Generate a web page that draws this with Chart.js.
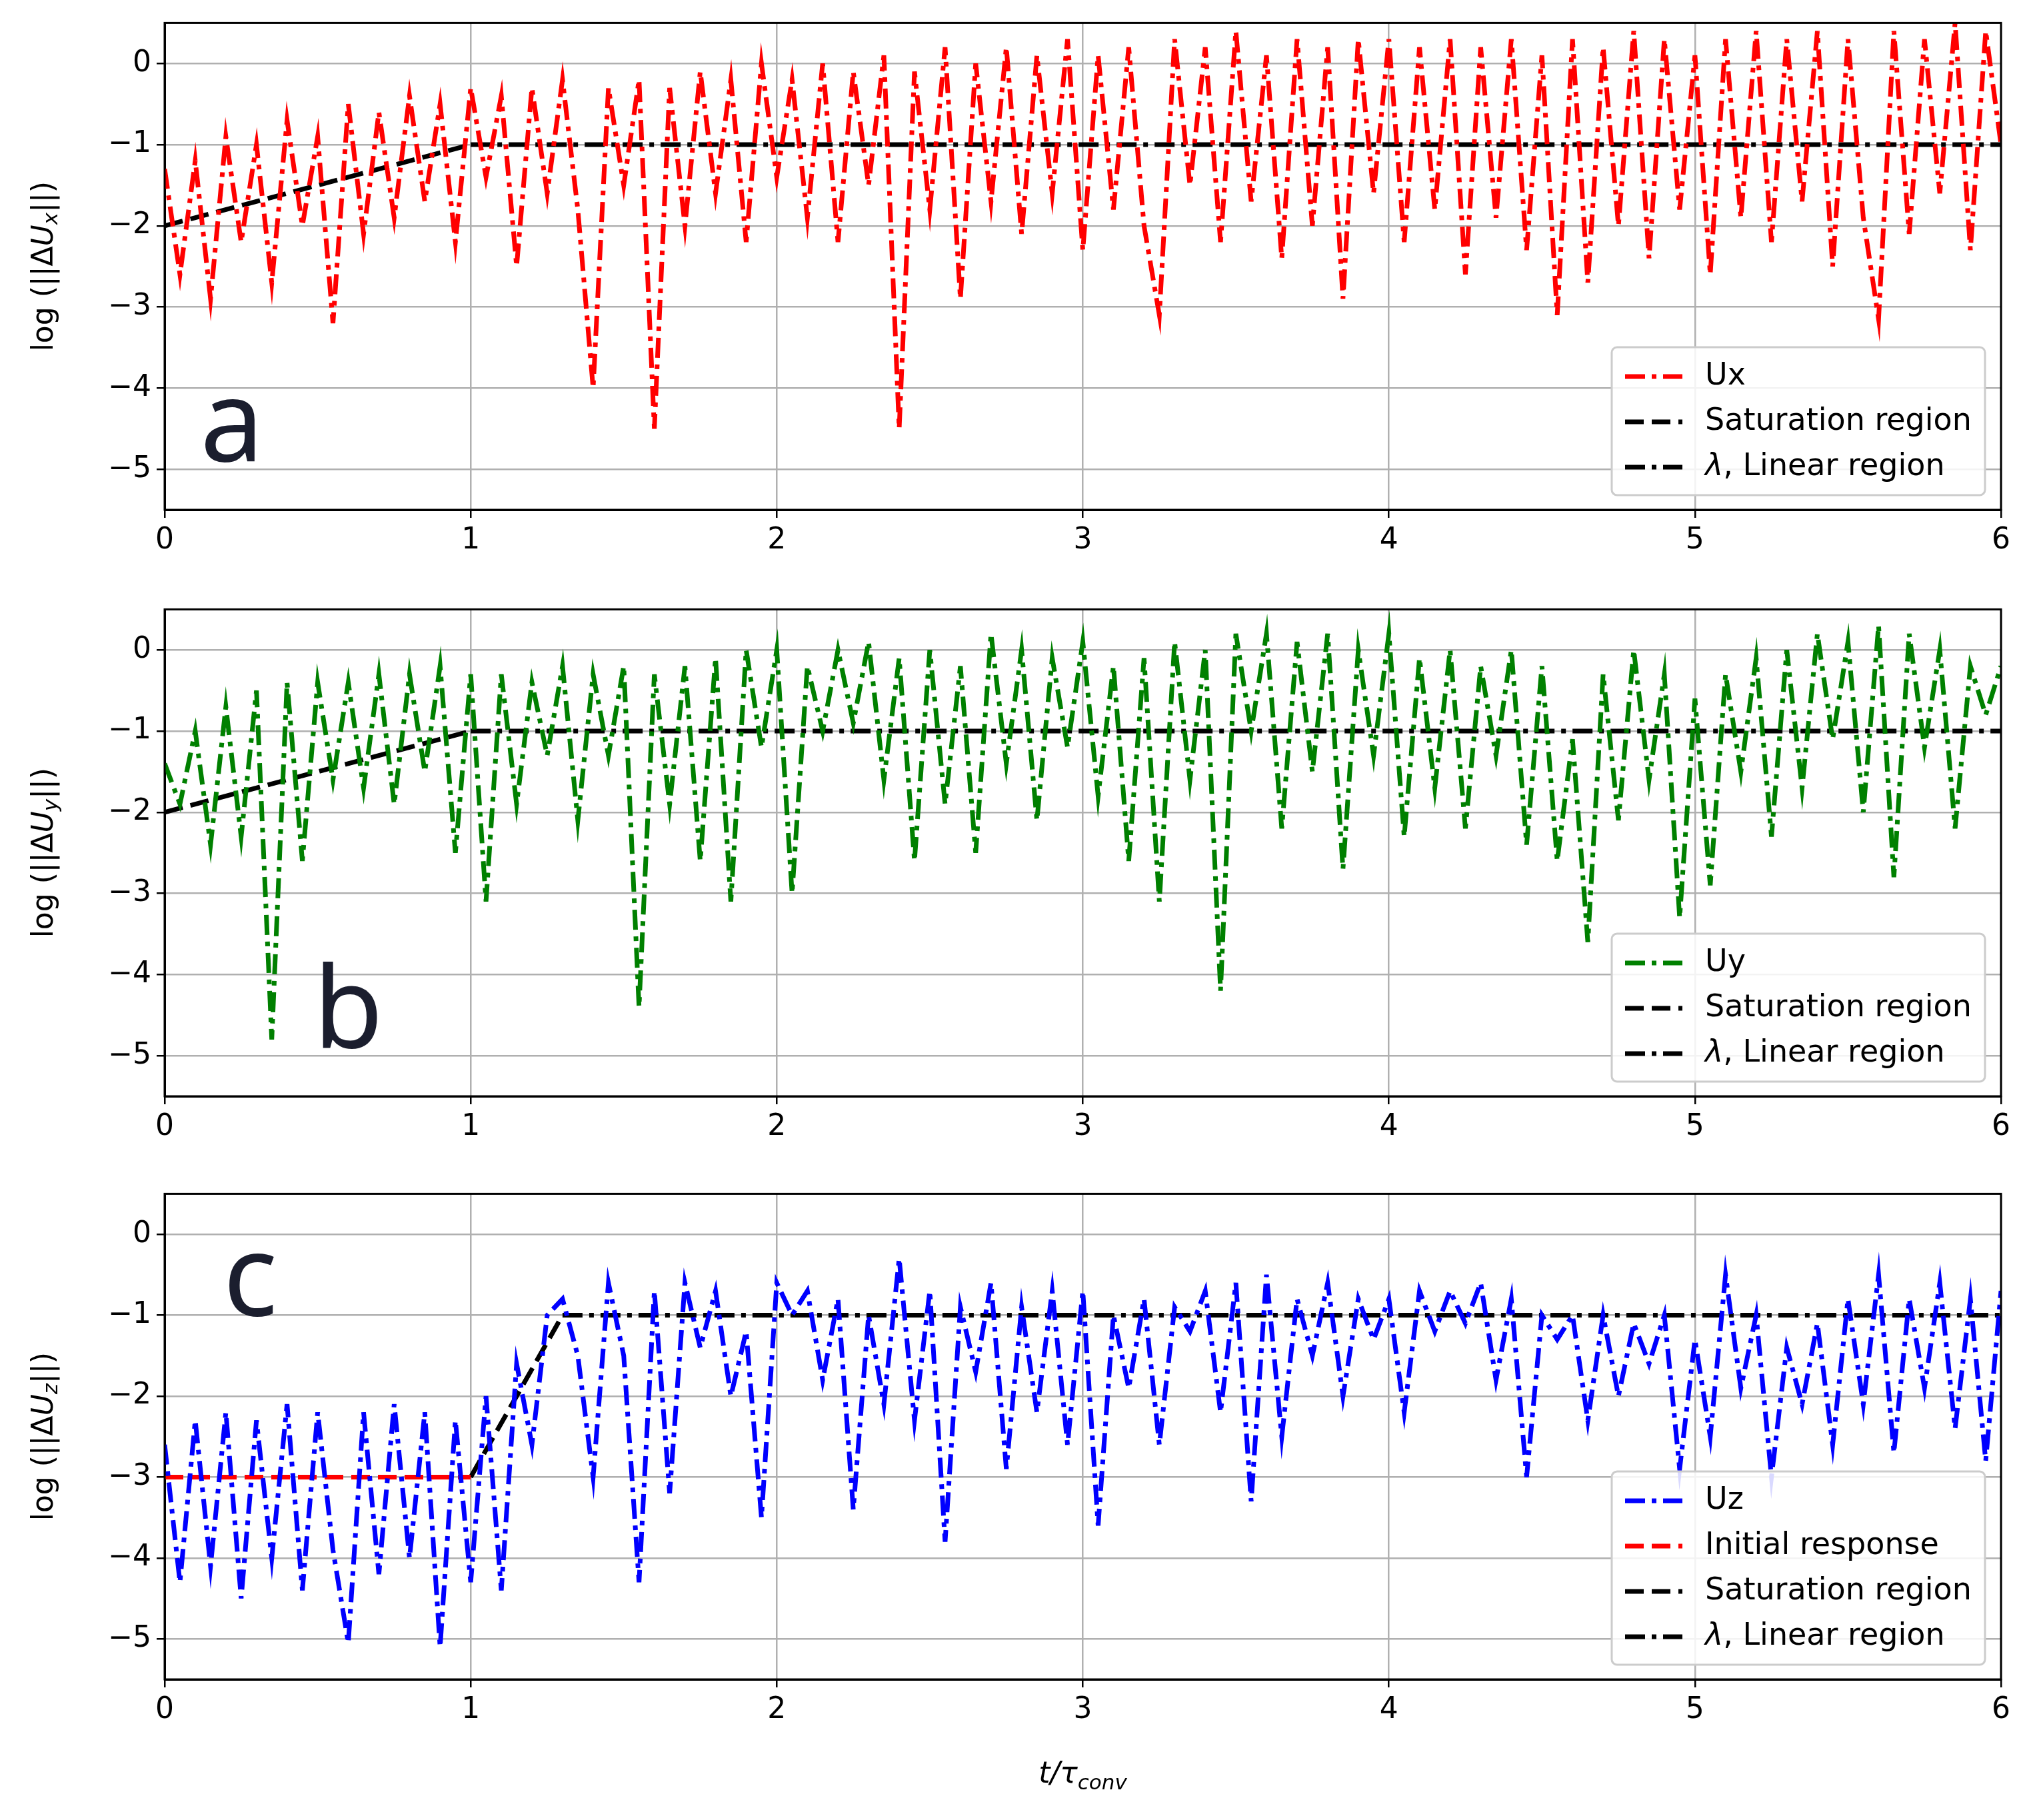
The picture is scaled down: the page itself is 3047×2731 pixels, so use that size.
<!DOCTYPE html>
<html>
<head>
<meta charset="utf-8">
<script src="https://cdn.jsdelivr.net/npm/chart.js@4/dist/chart.umd.min.js"></script>
<style>
  html, body { margin: 0; padding: 0; background: #fff; }
  #wrap { position: relative; width: 3047px; height: 2731px; }
  .panel { position: absolute; left: 0; width: 3047px; }
</style>
</head>
<body>
<div id="wrap">
  <div class="panel" id="pa" style="top:0px;height:840px"><canvas id="ca"></canvas></div>
  <div class="panel" id="pb" style="top:880px;height:840px"><canvas id="cb"></canvas></div>
  <div class="panel" id="pc" style="top:1757px;height:974px"><canvas id="cc"></canvas></div>
</div>
<script>
'use strict';

// time grid step of the sampled curves (t / tau_conv)
const DT = 0.05;

const uxValues = [
  -1.3, -2.6, -1.2, -2.9, -0.9, -2.2, -1.0, -2.7, -0.7, -2.0,
  -0.9, -3.2, -0.5, -2.1, -0.6, -1.9, -0.4, -1.7, -0.5, -2.2,
  -0.3, -1.4, -0.4, -2.5, -0.3, -1.6, -0.2, -1.8, -4.0, -0.3,
  -1.5, -0.2, -4.5, -0.3, -2.0, -0.1, -1.6, -0.2, -2.2, 0.0,
  -1.4, -0.2, -1.9, 0.0, -2.2, -0.1, -1.5, 0.1, -4.5, -0.1,
  -1.8, 0.2, -2.9, 0.0, -1.7, 0.2, -2.1, 0.1, -1.6, 0.3,
  -2.3, 0.1, -1.8, 0.2, -2.0, -3.1, 0.3, -1.5, 0.2, -2.2,
  0.4, -1.7, 0.1, -2.4, 0.3, -2.0, 0.2, -2.9, 0.3, -1.6,
  0.3, -2.2, 0.2, -1.8, 0.3, -2.6, 0.2, -1.9, 0.3, -2.3,
  0.1, -3.1, 0.3, -2.7, 0.2, -2.0, 0.4, -2.4, 0.3, -1.8,
  0.1, -2.6, 0.3, -1.9, 0.4, -2.2, 0.3, -1.7, 0.4, -2.5,
  0.3, -1.9, -3.15, 0.4, -2.1, 0.3, -1.6, 0.5, -2.3, 0.4,
  -1.0
];

const uyValues = [
  -1.4, -1.9, -1.0, -2.4, -0.7, -2.3, -0.5, -4.8, -0.4, -2.6,
  -0.4, -1.6, -0.4, -1.7, -0.3, -1.9, -0.3, -1.5, -0.2, -2.5,
  -0.3, -3.1, -0.3, -1.9, -0.4, -1.3, -0.2, -2.1, -0.3, -1.3,
  -0.2, -4.4, -0.3, -1.9, -0.2, -2.6, -0.1, -3.1, 0.0, -1.2,
  0.0, -3.0, -0.2, -1.0, 0.0, -0.9, 0.1, -1.6, -0.1, -2.6,
  0.0, -1.9, -0.2, -2.5, 0.2, -1.4, 0.0, -2.1, -0.1, -1.2,
  0.1, -1.8, -0.2, -2.6, -0.1, -3.1, 0.1, -1.6, 0.0, -4.2,
  0.2, -1.0, 0.2, -2.2, 0.1, -1.5, 0.2, -2.7, 0.0, -1.3,
  0.2, -2.3, -0.1, -1.7, 0.0, -2.2, -0.2, -1.3, 0.0, -2.4,
  -0.2, -2.6, -1.1, -3.6, -0.3, -2.1, 0.0, -1.6, -0.3, -3.3,
  -0.6, -2.9, -0.3, -1.5, -0.1, -2.3, 0.0, -1.7, 0.2, -1.1,
  0.1, -2.0, 0.3, -2.8, 0.2, -1.2, 0.0, -2.2, -0.2, -0.8,
  -0.2
];

const uzValues = [
  -2.6, -4.3, -2.3, -4.1, -2.2, -4.5, -2.3, -4.0, -2.1, -4.4,
  -2.2, -3.9, -5.05, -2.2, -4.2, -2.1, -4.0, -2.2, -5.1, -2.3,
  -4.3, -2.0, -4.4, -1.6, -2.6, -1.0, -0.8, -1.5, -3.0, -0.6,
  -1.5, -4.3, -0.7, -3.2, -0.6, -1.4, -0.7, -2.0, -1.2, -3.5,
  -0.6, -1.0, -0.7, -1.8, -0.8, -3.4, -1.0, -2.1, -0.3, -2.3,
  -0.7, -3.8, -0.9, -1.7, -0.6, -2.9, -0.9, -2.2, -0.7, -2.6,
  -0.7, -3.6, -1.0, -1.9, -0.8, -2.6, -0.9, -1.2, -0.7, -2.2,
  -0.6, -3.3, -0.5, -2.5, -0.8, -1.5, -0.6, -2.0, -0.8, -1.3,
  -0.8, -2.2, -0.7, -1.2, -0.7, -1.1, -0.6, -1.8, -0.8, -3.0,
  -1.0, -1.3, -1.0, -2.3, -1.0, -2.0, -1.1, -1.6, -1.0, -2.9,
  -1.3, -2.5, -0.5, -1.9, -1.0, -3.0, -1.4, -2.1, -1.1, -2.6,
  -0.8, -2.1, -0.5, -2.7, -0.8, -1.9, -0.6, -2.4, -0.8, -2.8,
  -0.7
];

// reference segments [t, log value]
const satAB = [[0, -2], [1, -1]];
const linAB = [[1, -1], [6, -1]];
const initC = [[0, -3], [1, -3]];
const satC  = [[1, -3], [1.3, -1]];
const linC  = [[1.3, -1], [6, -1]];

const X_TICKS = [0, 1, 2, 3, 4, 5, 6];
const Y_TICKS = [0, -1, -2, -3, -4, -5];

const FONT = '"DejaVu Sans", sans-serif';
const DASHDOT = [30, 10, 7, 10];
const DASH = [28, 12];

const series = vals => vals.map((v, i) => ({ x: +(i * DT).toFixed(2), y: v }));
const seg = pts => pts.map(p => ({ x: p[0], y: p[1] }));

function line(label, data, color, dash, width) {
  return { label, data, borderColor: color, borderDash: dash, borderWidth: width,
    pointRadius: 0, tension: 0, fill: false, borderCapStyle: 'butt' };
}

// legend box in the lower-right corner + panel letter + y label + frame
function decoPlugin(letter, letterPos, ySub) {
  return {
    id: 'deco',
    afterDraw(chart) {
      const { ctx, chartArea: a, scales } = chart;
      ctx.save();
      // full frame
      ctx.strokeStyle = '#000';
      ctx.lineWidth = 3;
      ctx.strokeRect(a.left, a.top, a.right - a.left, a.bottom - a.top);

      // panel letter
      ctx.font = '170px "Noto Sans", sans-serif';
      ctx.fillStyle = '#1b1e2e';
      ctx.textAlign = 'center';
      ctx.textBaseline = 'alphabetic';
      ctx.fillText(letter, scales.x.getPixelForValue(letterPos[0]), scales.y.getPixelForValue(letterPos[1]));

      // legend
      const items = chart.data.datasets.slice().filter(d => d.legendOrder !== undefined)
        .sort((p, q) => p.legendOrder - q.legendOrder);
      const rowH = 68, boxW = 560;
      const boxH = items.length * rowH + 18;
      const bx = a.right - 24 - boxW, by = a.bottom - 22 - boxH;
      ctx.fillStyle = 'rgba(255,255,255,0.85)';
      ctx.strokeStyle = '#cccccc';
      ctx.lineWidth = 3;
      ctx.beginPath();
      ctx.roundRect(bx, by, boxW, boxH, 8);
      ctx.fill(); ctx.stroke();
      ctx.font = '46px ' + FONT;
      ctx.textAlign = 'left';
      ctx.textBaseline = 'middle';
      items.forEach((d, i) => {
        const cy = by + 44 + i * rowH;
        ctx.strokeStyle = d.borderColor;
        ctx.lineWidth = d.borderWidth;
        ctx.setLineDash(d.borderDash);
        ctx.beginPath(); ctx.moveTo(bx + 20, cy); ctx.lineTo(bx + 106, cy); ctx.stroke();
        ctx.setLineDash([]);
        ctx.fillStyle = '#000';
        if (d.label.startsWith('λ')) {
          ctx.font = 'italic 46px ' + FONT;
          ctx.fillText('λ', bx + 140, cy);
          const w = ctx.measureText('λ').width;
          ctx.font = '46px ' + FONT;
          ctx.fillText(d.label.slice(1), bx + 140 + w, cy);
        } else {
          ctx.fillText(d.label, bx + 140, cy);
        }
      });

      // y axis label: log (||ΔU_sub||)
      ctx.translate(68, (a.top + a.bottom) / 2);
      ctx.rotate(-Math.PI / 2);
      ctx.fillStyle = '#000';
      ctx.textBaseline = 'middle';
      const parts = [['log (||Δ', '44px ' + FONT, 0], ['U', 'italic 44px ' + FONT, 0],
                     [ySub, 'italic 31px ' + FONT, 10], ['||)', '44px ' + FONT, 0]];
      let total = 0;
      parts.forEach(p => { ctx.font = p[1]; total += ctx.measureText(p[0]).width; });
      let x = -total / 2;
      parts.forEach(p => { ctx.font = p[1]; ctx.fillText(p[0], x, p[2]); x += ctx.measureText(p[0]).width; });
      ctx.restore();
    }
  };
}

const xTitlePlugin = {
  id: 'xtitle',
  afterDraw(chart) {
    const { ctx, chartArea: a } = chart;
    ctx.save();
    ctx.fillStyle = '#000';
    ctx.textBaseline = 'alphabetic';
    const parts = [['t/τ', 'italic 44px ' + FONT, 0], ['conv', 'italic 31px ' + FONT, 10]];
    let total = 0;
    parts.forEach(p => { ctx.font = p[1]; total += ctx.measureText(p[0]).width; });
    let x = (a.left + a.right) / 2 - total / 2;
    const y = a.bottom + 155;
    parts.forEach(p => { ctx.font = p[1]; ctx.fillText(p[0], x, y + p[2]); x += ctx.measureText(p[0]).width; });
    ctx.restore();
  }
};

function makeChart(id, datasets, letter, letterPos, ySub, extra, bottomH) {
  return new Chart(document.getElementById(id), {
    type: 'line',
    data: { datasets },
    plugins: [decoPlugin(letter, letterPos, ySub)].concat(extra),
    options: {
      responsive: true,
      maintainAspectRatio: false,
      devicePixelRatio: 1,
      animation: false,
      layout: { padding: { top: 33, right: 45, left: 0, bottom: 0 } },
      plugins: { legend: { display: false }, tooltip: { enabled: false } },
      scales: {
        x: {
          type: 'linear', min: 0, max: 6,
          afterFit: s => { s.height = bottomH; },
          afterBuildTicks: s => { s.ticks = X_TICKS.map(v => ({ value: v })); },
          grid: { color: '#b0b0b0', lineWidth: 2.5, tickLength: 12, tickColor: '#000', tickWidth: 2.5 },
          border: { color: '#000', width: 3 },
          ticks: { color: '#000', font: { family: FONT, size: 44 }, padding: 8, maxRotation: 0 }
        },
        y: {
          min: -5.5, max: 0.5,
          afterFit: s => { s.width = 247; },
          afterBuildTicks: s => { s.ticks = Y_TICKS.map(v => ({ value: v })); },
          grid: { color: '#b0b0b0', lineWidth: 2.5, tickLength: 12, tickColor: '#000', tickWidth: 2.5 },
          border: { color: '#000', width: 3 },
          ticks: { color: '#000', font: { family: FONT, size: 44 }, padding: 8,
                   callback: v => (v < 0 ? '\u2212' + Math.abs(v) : String(v)) }
        }
      }
    }
  });
}

function withOrder(d, o) { d.legendOrder = o; return d; }

makeChart('ca', [
  withOrder(line('Ux', series(uxValues), '#ff0000', DASHDOT, 7), 0),
  withOrder(line('Saturation region', seg(satAB), '#000', DASH, 7), 1),
  withOrder(line('λ, Linear region', seg(linAB), '#000', DASHDOT, 7), 2)
], 'a', [0.22, -4.9], 'x', [], 75);

makeChart('cb', [
  withOrder(line('Uy', series(uyValues), '#008000', DASHDOT, 7), 0),
  withOrder(line('Saturation region', seg(satAB), '#000', DASH, 7), 1),
  withOrder(line('λ, Linear region', seg(linAB), '#000', DASHDOT, 7), 2)
], 'b', [0.6, -4.9], 'y', [], 75);

makeChart('cc', [
  withOrder(line('Uz', series(uzValues), '#0000ff', DASHDOT, 7), 0),
  withOrder(line('Initial response', seg(initC), '#ff0000', DASH, 7), 1),
  withOrder(line('Saturation region', seg(satC), '#000', DASH, 7), 2),
  withOrder(line('λ, Linear region', seg(linC), '#000', DASHDOT, 7), 3)
], 'c', [0.28, -1.0], 'z', [xTitlePlugin], 211);
</script>
</body>
</html>
